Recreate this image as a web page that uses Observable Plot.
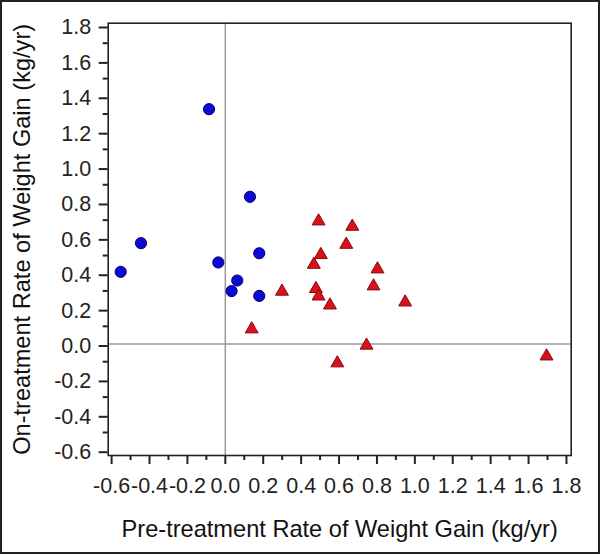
<!DOCTYPE html>
<html>
<head>
<meta charset="utf-8">
<script src="https://cdn.jsdelivr.net/npm/d3@7"></script>
<script src="https://cdn.jsdelivr.net/npm/@observablehq/plot@0.6"></script>
<style>
  html, body { margin: 0; padding: 0; background: #fff; }
  #wrap { position: relative; width: 600px; height: 555px; overflow: hidden; }
  #border { position: absolute; left: 0; top: 0; width: 600px; height: 554px; box-sizing: border-box; border: 2px solid #222; pointer-events: none; }
</style>
</head>
<body>
<div id="wrap"><div id="chart"></div><div id="border"></div></div>
<script>
// Group 1 (blue circles)
const blueX = [-0.086, 0.130, -0.445, -0.552, -0.037, 0.179, 0.063, 0.033, 0.179];
const blueY = [1.327, 0.832, 0.570, 0.408, 0.461, 0.513, 0.359, 0.299, 0.272];
// Group 2 (red triangles)
const redX = [0.492, 0.670, 0.638, 0.504, 0.467, 0.803, 0.299, 0.478, 0.492, 0.782, 0.552, 0.949, 0.139, 0.745, 0.591, 1.695];
const redY = [0.694, 0.664, 0.562, 0.504, 0.449, 0.423, 0.297, 0.312, 0.270, 0.327, 0.219, 0.236, 0.084, -0.008, -0.108, -0.069];

const xTicks = [-0.6, -0.4, -0.2, 0.0, 0.2, 0.4, 0.6, 0.8, 1.0, 1.2, 1.4, 1.6, 1.8];
const xMinor = [-0.5, -0.3, -0.1, 0.1, 0.3, 0.5, 0.7, 0.9, 1.1, 1.3, 1.5, 1.7];
const yTicks = [-0.6, -0.4, -0.2, 0.0, 0.2, 0.4, 0.6, 0.8, 1.0, 1.2, 1.4, 1.6, 1.8];
const yMinor = [-0.5, -0.3, -0.1, 0.1, 0.3, 0.5, 0.7, 0.9, 1.1, 1.3, 1.5, 1.7];

const xTitle = "Pre-treatment Rate of Weight Gain (kg/yr)";
const yTitle = "On-treatment Rate of Weight Gain (kg/yr)";

const blue = blueX.map((x, i) => ({x, y: blueY[i]}));
const red = redX.map((x, i) => ({x, y: redY[i]}));

const fmt = d => d.toFixed(1);
const axisColor = "#222";

const chart = Plot.plot({
  width: 600,
  height: 555,
  marginLeft: 107.7,
  marginRight: 29.3,
  marginTop: 22.7,
  marginBottom: 100,
  style: {fontFamily: "'Liberation Sans', Arial, sans-serif", background: "white", color: axisColor},
  x: {domain: [-0.618, 1.825]},
  y: {domain: [-0.630, 1.813]},
  marks: [
    Plot.ruleX([0], {stroke: "#9a9a9a", strokeWidth: 1.5}),
    Plot.ruleY([0], {stroke: "#9a9a9a", strokeWidth: 1.5}),
    Plot.frame({stroke: axisColor, strokeWidth: 1.6}),
    Plot.axisX(xTicks, {anchor: "bottom", tickSize: 9, tickPadding: 13, tickFormat: fmt, fontSize: 21.5, strokeWidth: 2, stroke: axisColor, label: null}),
    Plot.axisX(xMinor, {anchor: "bottom", tickSize: 5, text: null, strokeWidth: 2, stroke: axisColor, label: null}),
    Plot.axisY(yTicks, {anchor: "left", tickSize: 9, tickPadding: 8, tickFormat: fmt, fontSize: 21.5, dy: 2, strokeWidth: 2, stroke: axisColor, label: null}),
    Plot.axisY(yMinor, {anchor: "left", tickSize: 5, text: null, strokeWidth: 2, stroke: axisColor, label: null}),
    Plot.text([xTitle], {frameAnchor: "bottom", text: d => d, dy: 74, fontSize: 23.6, fill: "#111", textAnchor: "middle", lineAnchor: "middle"}),
    Plot.text([yTitle], {frameAnchor: "left", text: d => d, dx: -86, rotate: -90, fontSize: 23.6, fill: "#111", textAnchor: "middle", lineAnchor: "middle"}),
    Plot.dot(blue, {x: "x", y: "y", r: 5.6, symbol: "circle", fill: "#0a0ad0", stroke: "#00007a", strokeWidth: 1}),
    Plot.dot(red, {x: "x", y: "y", r: 4.8, symbol: "triangle", fill: "#d8121c", stroke: "#8a0a0a", strokeWidth: 1})
  ]
});
document.getElementById("chart").appendChild(chart);
</script>
</body>
</html>
